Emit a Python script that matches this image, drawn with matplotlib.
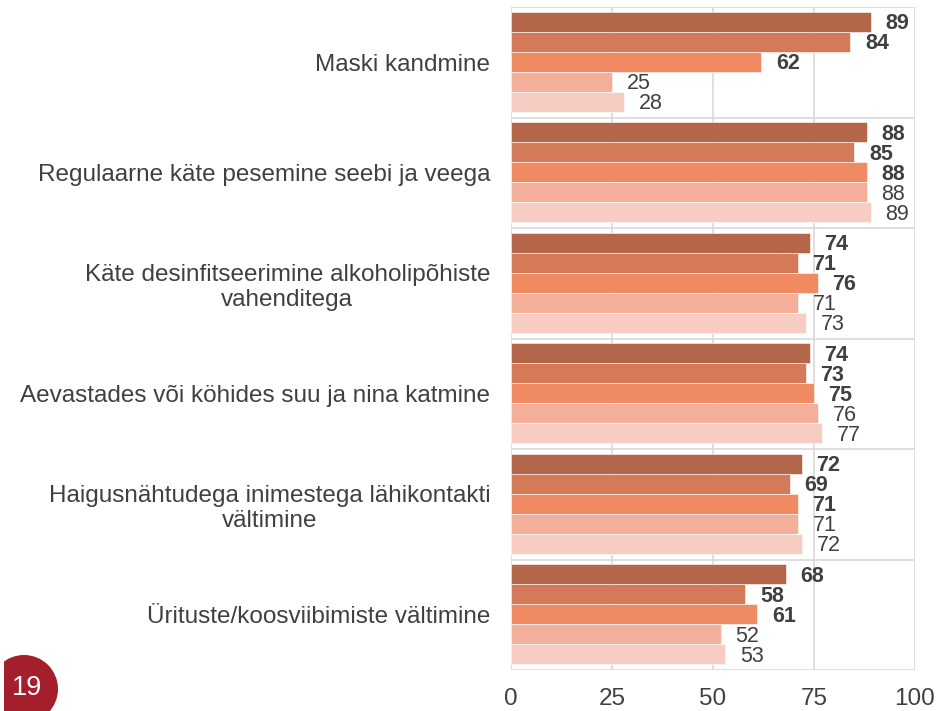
import matplotlib
matplotlib.use("Agg")
import matplotlib.pyplot as plt
from matplotlib.patches import Circle, Rectangle
import numpy as np

plt.rcParams['font.family'] = ['Liberation Sans', 'DejaVu Sans']

categories = [
    "Maski kandmine",
    "Regulaarne käte pesemine seebi ja veega",
    "Käte desinfitseerimine alkoholipõhiste\nvahenditega",
    "Aevastades või köhides suu ja nina katmine",
    "Haigusnähtudega inimestega lähikontakti\nvältimine",
    "Ürituste/koosviibimiste vältimine",
]
series1 = [89, 88, 74, 74, 72, 68]
series2 = [84, 85, 71, 73, 69, 58]
series3 = [62, 88, 76, 75, 71, 61]
series4 = [25, 88, 71, 76, 71, 52]
series5 = [28, 89, 73, 77, 72, 53]
series = [series1, series2, series3, series4, series5]
bold_series = [True, True, True, False, False]
colors = ["#B3664A", "#D47A58", "#F08A63", "#F3AF9A", "#F7CCC2"]
xticks = [0, 25, 50, 75, 100]
page_number = "19"

W, H = 939, 711
fig = plt.figure(figsize=(W / 100, H / 100), dpi=100)
ax = fig.add_axes([511 / W, 1 - 670 / H, (915 - 511) / W, (670 - 7) / H])

n = len(categories)
bar_h = 0.181
offsets = (np.arange(5) - 2) * bar_h - 0.005
text_color = "#404040"
fs = 17.5
for k, vals in enumerate(series):
    y = np.arange(n) + offsets[k]
    ax.barh(y, vals, height=bar_h, color=colors[k], edgecolor="white",
            linewidth=0.4, zorder=3)
    for yi, v in zip(y, vals):
        ax.annotate(str(v), (v, yi), xytext=(10.5, -1.5), textcoords="offset points",
                    ha="left", va="center", fontsize=15.5,
                    fontweight="bold" if bold_series[k] else "normal",
                    color=text_color, zorder=4)

ax.set_ylim(n - 0.5, -0.5)
ax.set_xlim(0, 100)
ax.set_xticks(xticks)
ax.set_xticklabels([str(t) for t in xticks], fontsize=fs, color=text_color)
ax.set_yticks(np.arange(n))
ax.set_yticklabels(categories, fontsize=fs, color=text_color, multialignment="center")
ax.tick_params(axis="both", length=0)
ax.tick_params(axis="y", pad=15)
ax.tick_params(axis="x", pad=13)

grid_c = "#D9D9D9"
for t in xticks:
    ax.axvline(t, color=grid_c, lw=1.2, zorder=1)
for b in np.arange(n + 1) - 0.5:
    ax.axhline(b, color=grid_c, lw=1.2, zorder=1)
for s in ax.spines.values():
    s.set_visible(False)

# page number badge
circ = Circle((0, 0), 1, facecolor="#A51E2B", edgecolor="none")
circ.set_transform(fig.dpi_scale_trans)
circ.center = (24 / 100, (H - 689) / 100)
circ.set_radius(34 / 100)
fig.patches.append(circ)
fig.patches.append(Rectangle((0, 0), 4 / W, 1, transform=fig.transFigure,
                             facecolor="white", edgecolor="none"))
fig.text(27.5 / W, 1 - 688 / H, page_number, color="white", fontsize=19.5,
         ha="center", va="center")

fig.savefig("out.png", dpi=100)
